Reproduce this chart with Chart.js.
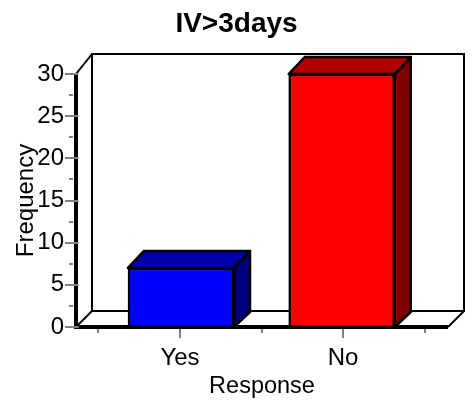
<!DOCTYPE html>
<html>
<head>
<meta charset="utf-8">
<style>html,body{margin:0;padding:0;background:#fff}canvas{display:block}</style>
<script src="https://cdn.jsdelivr.net/npm/chart.js@4"></script>
</head>
<body>
<canvas id="c" width="473" height="402"></canvas>
<script>
const categories = ['Yes', 'No'];
const categoryPositions = [1, 3];
const barPositions = [1.012, 2.984];
const frequencies = [7, 30];
const xTickValues = [0, 1, 2, 3, 4];
const frontColors = ['#0000ff', '#ff0000'];
const topColors = ['#0000a8', '#b00000'];
const sideColors = ['#00007f', '#7f0000'];
const FONT = '"Liberation Sans", Arial, sans-serif';
const DX = 16, DY = 16, BAR_DY = 17;

function poly(ctx, pts, fill) {
  ctx.beginPath();
  pts.forEach((p, i) => i ? ctx.lineTo(p[0], p[1]) : ctx.moveTo(p[0], p[1]));
  ctx.closePath();
  if (fill) { ctx.fillStyle = fill; ctx.fill(); }
  ctx.stroke();
}
function line(ctx, x1, y1, x2, y2) {
  ctx.beginPath(); ctx.moveTo(x1, y1); ctx.lineTo(x2, y2); ctx.stroke();
}

const box3d = {
  id: 'box3d',
  afterLayout(chart) {
    // centre the title on the whole canvas rather than the padded layout box
    chart.titleBlock.right = chart.width;
  },
  beforeDatasetsDraw(chart) {
    const { ctx, chartArea: a } = chart;
    ctx.save();
    ctx.strokeStyle = '#000'; ctx.lineWidth = 2; ctx.lineCap = 'butt';
    const bx = a.left + DX, by = a.bottom - DY, ty = a.top - 20, rx = a.right + DX;
    line(ctx, a.left, a.top, bx, ty);
    ctx.strokeRect(bx, ty, rx - bx, by - ty);
    line(ctx, a.left, a.bottom, bx, by);
    line(ctx, a.right, a.bottom, rx, by);
    ctx.restore();
  },
  afterDatasetsDraw(chart) {
    const { ctx, chartArea: a, scales } = chart;
    ctx.save();
    ctx.strokeStyle = '#000'; ctx.lineWidth = 2.5; ctx.lineJoin = 'round';
    chart.getDatasetMeta(0).data.forEach((bar, i) => {
      const p = bar.getProps(['x', 'y', 'base', 'width'], true);
      const l = p.x - p.width / 2, r = p.x + p.width / 2, t = p.y, b = p.base;
      poly(ctx, [[r, b], [r + DX, b - BAR_DY + 2], [r + DX, t - BAR_DY], [r, t]], sideColors[i]);
      poly(ctx, [[l, t], [l + DX, t - BAR_DY], [r + DX, t - BAR_DY], [r, t]], topColors[i]);
    });
    // heavy front axes
    ctx.lineWidth = 4;
    line(ctx, a.left, a.top, a.left, a.bottom + 2);
    line(ctx, a.left, a.bottom, a.right, a.bottom);
    // tick marks from the library's scales
    ctx.strokeStyle = '#808080'; ctx.lineWidth = 2;
    scales.y.ticks.forEach(t => {
      const y = Math.round(scales.y.getPixelForValue(t.value));
      const major = Number.isInteger(t.value);
      line(ctx, major ? a.left - 11 : a.left - 7, y, major ? a.left + 2.5 : a.left - 3, y);
    });
    scales.x.ticks.forEach(t => {
      const x = Math.round(scales.x.getPixelForValue(t.value));
      const major = categoryPositions.includes(t.value);
      line(ctx, x, a.bottom + 2, x, a.bottom + (major ? 11 : 6));
    });
    ctx.restore();
  }
};

new Chart(document.getElementById('c'), {
  type: 'bar',
  data: {
    datasets: [{
      data: barPositions.map((x, i) => ({ x, y: frequencies[i] })),
      backgroundColor: frontColors,
      borderColor: '#000',
      borderWidth: 2.5,
      barThickness: 106
    }]
  },
  plugins: [box3d],
  options: {
    responsive: false,
    animation: false,
    layout: { padding: { left: 0, right: 25, top: 0, bottom: 0 } },
    plugins: {
      legend: { display: false },
      tooltip: { enabled: false },
      title: {
        display: true,
        text: 'IV>3days',
        color: '#000',
        font: { family: FONT, size: 28, weight: 'bold' },
        padding: { top: 7, bottom: 33.4 }
      }
    },
    scales: {
      x: {
        type: 'linear',
        offset: false,
        min: -0.276,
        max: 4.288,
        afterBuildTicks: s => { s.ticks = xTickValues.map(value => ({ value })); },
        afterFit: s => { s.height = 75; },
        grid: { display: false },
        border: { display: false },
        ticks: {
          color: '#000',
          font: { family: FONT, size: 24 },
          padding: 9,
          maxRotation: 0,
          autoSkip: false,
          callback: v => { const i = categoryPositions.indexOf(v); return i >= 0 ? categories[i] : ''; }
        },
        title: {
          display: true,
          text: 'Response',
          color: '#000',
          font: { family: FONT, size: 23.5 },
          padding: { top: 0, bottom: 1 }
        }
      },
      y: {
        min: 0,
        max: 30,
        afterFit: s => { s.width = 76; },
        grid: { display: false },
        border: { display: false },
        ticks: {
          stepSize: 2.5,
          color: '#000',
          font: { family: FONT, size: 24 },
          padding: 4,
          autoSkip: false,
          callback: v => Number.isInteger(v) ? String(v) : ''
        },
        title: {
          display: true,
          text: 'Frequency',
          color: '#000',
          font: { family: FONT, size: 24 },
          padding: { top: 12, bottom: 0 }
        }
      }
    }
  }
});
</script>
</body>
</html>
